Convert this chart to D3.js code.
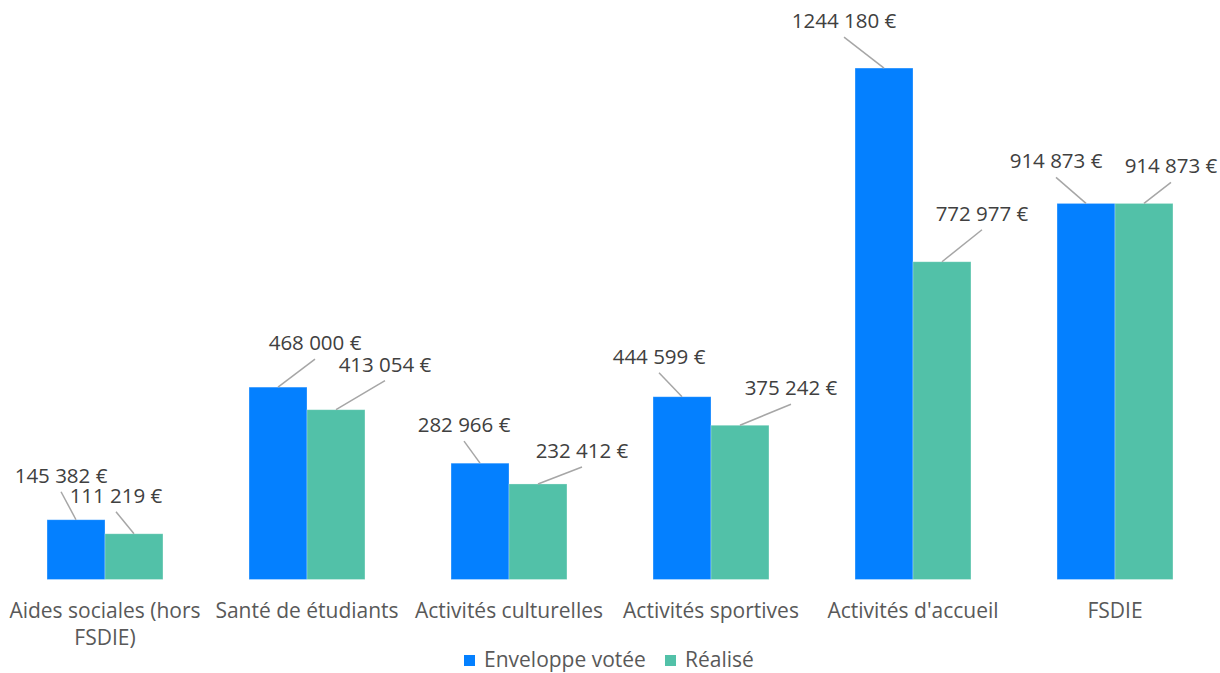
<!DOCTYPE html>
<html>
<head>
<meta charset="utf-8">
<script src="https://cdn.jsdelivr.net/npm/d3@7"></script>
<style>
  body { margin: 0; background: #fff; }
  text { font-family: "Open Sans", sans-serif; }
</style>
</head>
<body>
<div id="chart-container"></div>
<script>
//data
var categories = ['Aides sociales (hors FSDIE)', 'Santé de étudiants', 'Activités culturelles', 'Activités sportives', "Activités d'accueil", 'FSDIE'],
    seriesNames = ['Enveloppe votée', 'Réalisé'],
    enveloppeValues = [145382, 468000, 282966, 444599, 1244180, 914873],
    realiseValues = [111219, 413054, 232412, 375242, 772977, 914873];

//label offsets from bar top (dx, dy), as placed by hand in the original
var enveloppeLabelOffsets = [[-15, -45], [37, -45], [-16, -39], [-23, -41], [-40, -48], [-30, -43]],
    realiseLabelOffsets = [[-18, -39], [49, -46], [44, -34], [51, -38], [40, -49], [27, -38]];

var colors = ['#0480FF', '#52C1A8'];

//sizes
var outerW = 1220,
    outerH = 673,
    plotLeft = 4,
    plotRight = 1216,
    plotTop = 4,
    plotBottom = 579.5;

var svg = d3.select('#chart-container').append('svg')
    .attr('width', outerW)
    .attr('height', outerH);

//scales
var xScale = d3.scaleBand()
    .domain(categories)
    .range([plotLeft, plotRight])
    .paddingInner(0.426)
    .paddingOuter(0.213);

var subScale = d3.scaleBand()
    .domain(seriesNames)
    .range([0, xScale.bandwidth()]);

var yScale = d3.scaleLinear()
    .domain([0, 1400000])
    .range([plotBottom, plotTop]);

function formatEuro(v) {
    var high = Math.floor(v / 1000),
        low = String(v % 1000).padStart(3, '0');
    return high + ' ' + low + ' €';
}

var series = [
    { name: seriesNames[0], values: enveloppeValues, offsets: enveloppeLabelOffsets, color: colors[0] },
    { name: seriesNames[1], values: realiseValues, offsets: realiseLabelOffsets, color: colors[1] }
];

var barsG = svg.append('g');
var labelsG = svg.append('g');

series.forEach(function(s) {
    categories.forEach(function(c, i) {
        var v = s.values[i],
            x = xScale(c) + subScale(s.name),
            w = subScale.bandwidth(),
            y = yScale(v);

        barsG.append('rect')
            .attr('x', x)
            .attr('y', y)
            .attr('width', w)
            .attr('height', plotBottom - y)
            .attr('fill', s.color)
            .attr('stroke', '#ffffff')
            .attr('stroke-opacity', 0.35)
            .attr('stroke-width', 0.8);

        var cx = x + w / 2,
            tx = cx + s.offsets[i][0],
            ty = y + s.offsets[i][1];

        labelsG.append('line')
            .attr('x1', cx)
            .attr('y1', y)
            .attr('x2', tx)
            .attr('y2', ty + 17)
            .attr('stroke', '#A6A6A6')
            .attr('stroke-width', 1.5);

        labelsG.append('text')
            .attr('x', tx)
            .attr('y', ty)
            .attr('text-anchor', 'middle')
            .attr('dominant-baseline', 'central')
            .attr('font-size', '20.5px')
            .attr('fill', '#404040')
            .text(formatEuro(v));
    });
});

//category axis labels
var xAxisG = svg.append('g');
categories.forEach(function(c) {
    var t = xAxisG.append('text')
        .attr('x', xScale(c) + xScale.bandwidth() / 2)
        .attr('y', 610)
        .attr('text-anchor', 'middle')
        .attr('dominant-baseline', 'central')
        .attr('font-size', '21px')
        .attr('fill', '#595959');
    wrap(t, c, xScale.step() - 4);
});

function wrap(textSel, str, width) {
    var words = str.split(' '),
        line = [],
        tspan = textSel.append('tspan').attr('x', textSel.attr('x')).attr('dy', 0);
    words.forEach(function(word) {
        line.push(word);
        tspan.text(line.join(' '));
        if (tspan.node().getComputedTextLength() > width && line.length > 1) {
            line.pop();
            tspan.text(line.join(' '));
            line = [word];
            tspan = textSel.append('tspan')
                .attr('x', textSel.attr('x'))
                .attr('dy', '27px')
                .text(word);
        }
    });
}

//legend
var legendItems = [
    { name: seriesNames[0], color: colors[0], x: 464 },
    { name: seriesNames[1], color: colors[1], x: 665 }
];
var legendG = svg.append('g');
legendItems.forEach(function(d) {
    legendG.append('rect')
        .attr('x', d.x)
        .attr('y', 655)
        .attr('width', 11)
        .attr('height', 11)
        .attr('fill', d.color);
    legendG.append('text')
        .attr('x', d.x + 20)
        .attr('y', 659)
        .attr('dominant-baseline', 'central')
        .attr('font-size', '21px')
        .attr('fill', '#595959')
        .text(d.name);
});
</script>
</body>
</html>
